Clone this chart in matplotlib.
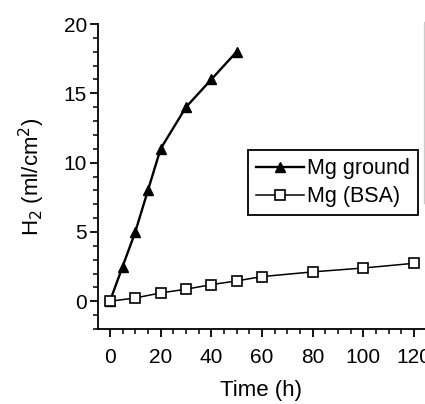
import matplotlib
matplotlib.use("Agg")
import matplotlib.pyplot as plt
from matplotlib.ticker import MultipleLocator
from matplotlib.lines import Line2D

plt.rcParams['font.family'] = ['Liberation Sans', 'DejaVu Sans']

ground_t = [0, 5, 10, 15, 20, 30, 40, 50]
ground_h2 = [0, 2.5, 5.0, 8.0, 11.0, 14.0, 16.0, 18.0]
bsa_t = [0, 10, 20, 30, 40, 50, 60, 80, 100, 120]
bsa_h2 = [0, 0.24, 0.6, 0.87, 1.2, 1.47, 1.78, 2.12, 2.4, 2.74]
xticks = [0, 20, 40, 60, 80, 100, 120]
yticks = [0, 5, 10, 15, 20]

fig = plt.figure(figsize=(4.25, 4.04), dpi=100)
ax = fig.add_axes([98/425, 75/404, 1 - 98/425, 305/404])

ax.plot(ground_t, ground_h2, color='black', lw=1.7, marker='^', ms=7.5,
        mfc='black', mec='black', label='Mg ground', zorder=2)
ax.plot(bsa_t, bsa_h2, color='black', lw=1.1, marker='s', ms=6.5,
        mfc='white', mec='black', mew=1.2, label='Mg (BSA)', zorder=3)

ax.set_xlim(-4.7, 124.3)
ax.set_ylim(-2, 20)
ax.set_xticks(xticks)
ax.set_yticks(yticks)
ax.set_yticklabels([str(v) for v in yticks])
ax.xaxis.set_minor_locator(MultipleLocator(5))
ax.yaxis.set_minor_locator(MultipleLocator(1))
for s in ['top', 'right']:
    ax.spines[s].set_visible(False)
for s in ['left', 'bottom']:
    ax.spines[s].set_linewidth(1.3)
ax.tick_params(which='major', direction='out', length=6, width=1.3, labelsize=15)
ax.tick_params(which='minor', direction='out', length=3.5, width=1.1)
ax.tick_params(axis='x', pad=8)
ax.tick_params(axis='y', pad=2)

ax.set_xlabel('Time (h)', fontsize=16, labelpad=9)
ax.set_ylabel('H$_2$ (ml/cm$^2$)', fontsize=16, labelpad=12)

leg = ax.legend(loc='upper right', bbox_to_anchor=(0.979, 0.587), fontsize=15.5,
                frameon=True, fancybox=False, edgecolor='black', framealpha=1,
                handlelength=2.2, handletextpad=0.15, borderpad=0.38,
                labelspacing=0.33, borderaxespad=0)
leg.get_frame().set_linewidth(1.3)

fig.add_artist(Line2D([424/425, 424/425], [1 - 22/404, 1 - 203/404],
                      transform=fig.transFigure, color='#cccccc', lw=1))

fig.savefig('out.png', dpi=100)
